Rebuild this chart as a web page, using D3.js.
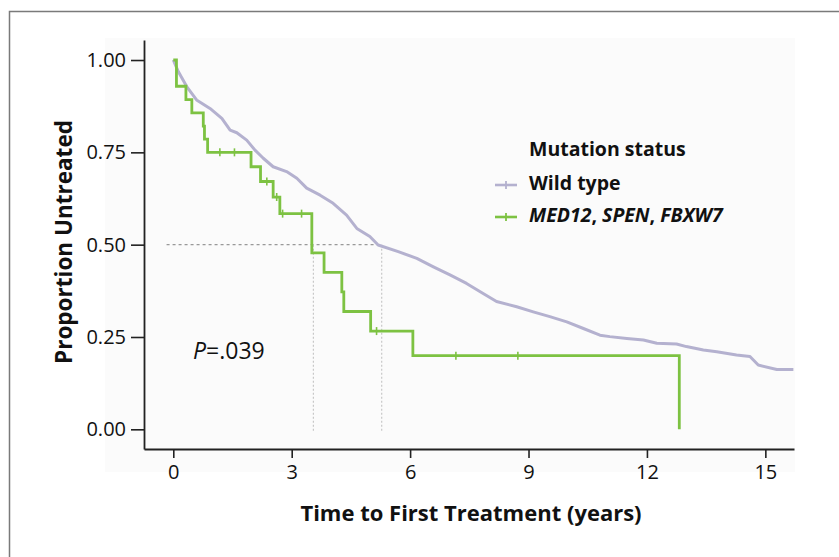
<!DOCTYPE html>
<html><head><meta charset="utf-8">
<script src="https://cdn.jsdelivr.net/npm/d3@7"></script>
<style>html,body{margin:0;padding:0;background:#fff;}svg{display:block;}</style>
</head><body><svg id="c" width="839" height="557"></svg>
<script>
// ---- data ----
const xTicks = [0, 3, 6, 9, 12, 15];
const yTicks = [0, 0.25, 0.5, 0.75, 1.0];
const seriesNames = ["Wild type", "MED12, SPEN, FBXW7"];
const seriesColors = ["#b4b1cf", "#7dc242"];

// Wild type KM curve (time in years, proportion untreated)
const wildTime = [0, 0.13, 0.34, 0.59, 0.93, 1.23, 1.44, 1.61, 1.86, 2.07, 2.28, 2.53, 2.87, 3.13, 3.38, 3.72, 4.05, 4.39, 4.65, 4.98, 5.19, 5.70, 6.17, 6.59, 7.01, 7.43, 7.85, 8.19, 8.70, 9.12, 9.54, 9.97, 10.39, 10.81, 11.06, 11.49, 11.91, 12.25, 12.75, 13.0, 13.43, 13.77, 14.27, 14.61, 14.82, 15.29, 15.71];
const wildSurv = [1.0, 0.968, 0.928, 0.892, 0.869, 0.842, 0.810, 0.803, 0.783, 0.756, 0.734, 0.711, 0.698, 0.680, 0.653, 0.634, 0.612, 0.580, 0.544, 0.522, 0.499, 0.481, 0.463, 0.440, 0.418, 0.395, 0.368, 0.346, 0.332, 0.318, 0.305, 0.291, 0.273, 0.255, 0.251, 0.246, 0.242, 0.233, 0.231, 0.224, 0.215, 0.210, 0.201, 0.197, 0.174, 0.162, 0.162];

// Mutated KM curve (step)
const mutTime = [0, 0.08, 0.32, 0.47, 0.76, 0.79, 0.87, 1.97, 2.21, 2.53, 2.70, 3.51, 3.82, 4.27, 4.32, 5.00, 6.07, 12.82];
const mutSurv = [1.0, 0.929, 0.893, 0.857, 0.821, 0.786, 0.75, 0.711, 0.671, 0.629, 0.584, 0.478, 0.425, 0.372, 0.319, 0.266, 0.1995, 0.0];
const mutCensor = [1.18, 1.55, 2.37, 2.62, 2.77, 3.25, 5.15, 7.16, 8.73];

const medianTimes = [3.55, 5.28];
const medianStart = -0.17;
const medianEndTime = 5.2;
const pText = ".039";

// ---- drawing ----
const svg = d3.select("#c");
const font = "'Open Sans', sans-serif";

const x = d3.scaleLinear().domain([-0.742, 15.726]).range([144, 794]);
const y = d3.scaleLinear().domain([-0.0533, 1.0542]).range([449, 40]);

// frame
svg.append("path").attr("d", "M9.5,557 V11.5 H839").attr("fill", "none").attr("stroke", "#7a7a7a").attr("stroke-width", 1.5);
// faint plot background
svg.append("rect").attr("x", 105).attr("y", 38).attr("width", 690).attr("height", 434).attr("fill", "#fbfbfb");

// median guide lines
svg.append("line")
  .attr("x1", x(medianStart)).attr("x2", x(medianEndTime))
  .attr("y1", y(0.5)).attr("y2", y(0.5))
  .attr("stroke", "#999").attr("stroke-width", 1.2).attr("stroke-dasharray", "3,3");
svg.selectAll(".med").data(medianTimes).enter().append("line")
  .attr("x1", d => x(d)).attr("x2", d => x(d))
  .attr("y1", y(0.5)).attr("y2", y(-0.008))
  .attr("stroke", "#c8c8c8").attr("stroke-width", 1.2).attr("stroke-dasharray", "2,2");

// wild type curve
const wildData = wildTime.map((t, i) => [t, wildSurv[i]]);
svg.append("path").datum(wildData)
  .attr("d", d3.line().x(d => x(d[0])).y(d => y(d[1])).curve(d3.curveLinear))
  .attr("fill", "none").attr("stroke", seriesColors[0]).attr("stroke-width", 3)
  .attr("stroke-linejoin", "round");

// mutated curve
const mutData = mutTime.map((t, i) => [t, mutSurv[i]]);
svg.append("path").datum(mutData)
  .attr("d", d3.line().x(d => x(d[0])).y(d => y(d[1])).curve(d3.curveStepAfter))
  .attr("fill", "none").attr("stroke", seriesColors[1]).attr("stroke-width", 2.8);

function survAt(t) {
  let s = 1;
  for (let i = 0; i < mutTime.length; i++) if (mutTime[i] <= t) s = mutSurv[i];
  return s;
}
svg.selectAll(".cens").data(mutCensor).enter().append("line")
  .attr("x1", d => x(d)).attr("x2", d => x(d))
  .attr("y1", d => y(survAt(d)) - 4).attr("y2", d => y(survAt(d)) + 4)
  .attr("stroke", seriesColors[1]).attr("stroke-width", 1.6);

// axes
const yAxis = svg.append("g").attr("transform", "translate(144,0)")
  .call(d3.axisLeft(y).tickValues(yTicks).tickFormat(d3.format(".2f")).tickSizeInner(13).tickSizeOuter(0).tickPadding(5));
const xAxis = svg.append("g").attr("transform", "translate(0,449)")
  .call(d3.axisBottom(x).tickValues(xTicks).tickFormat(d3.format("d")).tickSizeInner(9).tickSizeOuter(0).tickPadding(7));
[yAxis, xAxis].forEach(g => {
  g.select(".domain").attr("stroke", "#222").attr("stroke-width", 1.8);
  g.selectAll(".tick line").attr("stroke", "#222").attr("stroke-width", 1.6);
  g.selectAll(".tick text").attr("fill", "#111").style("font-family", font).style("font-size", "20px");
});

// axis titles
svg.append("text").attr("transform", "translate(72,242) rotate(-90)")
  .attr("text-anchor", "middle").style("font-family", font).style("font-weight", "700")
  .style("font-size", "22.5px").attr("fill", "#111").text("Proportion Untreated");
svg.append("text").attr("x", 471).attr("y", 521)
  .attr("text-anchor", "middle").style("font-family", font).style("font-weight", "700")
  .style("font-size", "22px").attr("fill", "#111").text("Time to First Treatment (years)");

// P value
const pt = svg.append("text").attr("x", 193).attr("y", 359)
  .style("font-family", font).style("font-size", "23px").attr("fill", "#111");
pt.append("tspan").style("font-style", "italic").text("P");
pt.append("tspan").text("=" + pText);

// legend
svg.append("text").attr("x", 529).attr("y", 156).style("font-family", font)
  .style("font-weight", "700").style("font-size", "19.5px").attr("fill", "#111").text("Mutation status");
const legY = [185, 217];
seriesNames.forEach((n, i) => {
  svg.append("line").attr("x1", 495).attr("x2", 517).attr("y1", legY[i]).attr("y2", legY[i])
    .attr("stroke", seriesColors[i]).attr("stroke-width", 2.6);
  svg.append("line").attr("x1", 506).attr("x2", 506).attr("y1", legY[i] - 4).attr("y2", legY[i] + 4)
    .attr("stroke", seriesColors[i]).attr("stroke-width", 1.8);
  const t = svg.append("text").attr("x", 529).attr("y", legY[i] + 5).style("font-family", font)
    .style("font-weight", "700").style("font-size", "19.5px").attr("fill", "#111");
  if (i === 0) t.text(n);
  else {
    n.split(", ").forEach((part, k, arr) => {
      t.append("tspan").style("font-style", "italic").text(part);
      if (k < arr.length - 1) t.append("tspan").text(", ");
    });
  }
});
</script></body></html>
